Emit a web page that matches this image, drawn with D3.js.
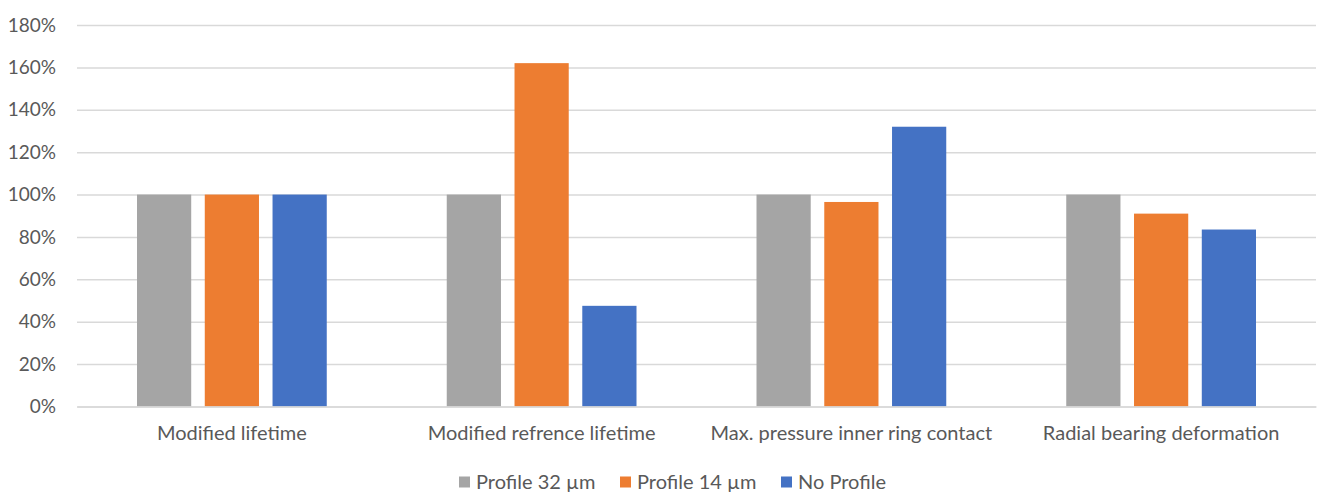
<!DOCTYPE html>
<html>
<head>
<meta charset="utf-8">
<script src="https://cdn.jsdelivr.net/npm/d3@7"></script>
<style>
  body { margin: 0; background: #fff; }
  text { font-family: Lato, "Open Sans", sans-serif; }
</style>
</head>
<body>
<div id="chart"></div>
<script>
const categories = ['Modified lifetime', 'Modified refrence lifetime', 'Max. pressure inner ring contact', 'Radial bearing deformation'];
const seriesNames = ['Profile 32 µm', 'Profile 14 µm', 'No Profile'];
const profile32 = [100, 100, 100, 100];
const profile14 = [100, 162, 96.5, 91];
const noProfile = [100, 47.5, 132, 83.5];
const yTicks = [0, 20, 40, 60, 80, 100, 120, 140, 160, 180];
const colors = ['#a5a5a5', '#ed7d31', '#4472c4'];

const width = 1326, height = 497;
const margin = { top: 25, right: 10, bottom: 90.5, left: 77 };
const series = [profile32, profile14, noProfile];

const svg = d3.select('#chart').append('svg')
  .attr('width', width)
  .attr('height', height);

// scales
const x0 = d3.scaleBand()
  .domain(categories)
  .range([margin.left, width - margin.right]);
const groupPad = 60;
const x1 = d3.scaleBand()
  .domain(d3.range(seriesNames.length))
  .range([groupPad, x0.bandwidth() - groupPad])
  .paddingInner(0.2);
const y = d3.scaleLinear()
  .domain([0, 180])
  .range([height - margin.bottom, margin.top]);

// gridlines + y labels
const yAxis = svg.append('g')
  .attr('transform', `translate(${margin.left},0)`)
  .call(d3.axisLeft(y).tickValues(yTicks).tickFormat(d => d + '%')
    .tickSize(-(width - margin.left - margin.right)).tickPadding(21));
yAxis.select('.domain').remove();
yAxis.selectAll('.tick line').attr('stroke', '#d9d9d9').attr('stroke-width', 1.5);
yAxis.selectAll('.tick text')
  .attr('fill', '#595959')
  .attr('font-size', 19);

// bars
const groups = svg.append('g').selectAll('g')
  .data(categories).enter().append('g')
  .attr('transform', d => `translate(${x0(d)},0)`);
groups.selectAll('rect')
  .data((d, i) => series.map((s, k) => ({ k, v: s[i] })))
  .enter().append('rect')
  .attr('x', d => x1(d.k))
  .attr('width', x1.bandwidth())
  .attr('y', d => y(d.v))
  .attr('height', d => y(0) - y(d.v))
  .attr('fill', d => colors[d.k]);

// category axis
const xAxis = svg.append('g')
  .attr('transform', `translate(0,${y(0)})`)
  .call(d3.axisBottom(x0).tickSize(0).tickPadding(19));
xAxis.select('.domain').attr('stroke', '#d9d9d9').attr('stroke-width', 1.5);
xAxis.selectAll('.tick text')
  .attr('fill', '#595959')
  .attr('font-size', 20);

// legend
const legendX = [459, 620, 781];
const legend = svg.append('g').selectAll('g')
  .data(seriesNames).enter().append('g')
  .attr('transform', (d, i) => `translate(${legendX[i]},${482})`);
legend.append('rect')
  .attr('x', 0).attr('y', -5.5)
  .attr('width', 11).attr('height', 11)
  .attr('fill', (d, i) => colors[i]);
legend.append('text')
  .attr('x', 17).attr('dy', '0.35em')
  .attr('fill', '#595959')
  .attr('font-size', 20)
  .text(d => d);
</script>
</body>
</html>
